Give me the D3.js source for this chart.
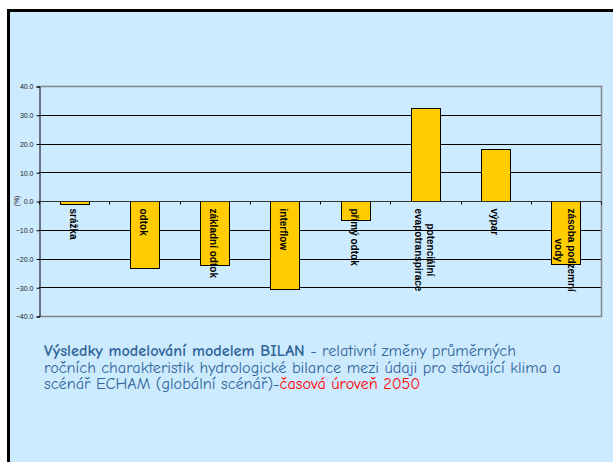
<!DOCTYPE html>
<html>
<head>
<meta charset="utf-8">
<script src="https://cdn.jsdelivr.net/npm/d3@7/dist/d3.min.js"></script>
<style>
  html, body { margin: 0; padding: 0; background: #ffffff; }
  svg { display: block; }
</style>
</head>
<body>
<svg id="chart" width="613" height="462"></svg>
<script>
// Relative change (%) of mean annual water-balance components, BILAN model, ECHAM scenario, 2050
const categories = [
  ["srážka"],
  ["odtok"],
  ["základní odtok"],
  ["interflow"],
  ["přímý odtok"],
  ["potenciální", "evapotranspirace"],
  ["výpar"],
  ["zásoba podzemní", "vody"]
];
const values = [-0.9, -23.4, -22.2, -30.5, -6.6, 32.2, 18.2, -22.0];
const yTicks = [40, 30, 20, 10, 0, -10, -20, -30, -40];
const yLabel = "(%)";
const captionLines = [
  [{ t: "Výsledky modelování modelem BILAN", bold: true }, { t: " - relativní změny průměrných" }],
  [{ t: "ročních charakteristik hydrologické bilance mezi údaji pro stávající klima a" }],
  [{ t: "scénář ECHAM (globální scénář)-" }, { t: "časová úroveň 2050", red: true }]
];

const svg = d3.select("#chart");
const W = 613, H = 462;

// slide background and frame
svg.append("rect").attr("x", 0).attr("y", 0).attr("width", W).attr("height", H).attr("fill", "#ffffff");
svg.append("rect").attr("x", 8).attr("y", 10).attr("width", W - 8).attr("height", H - 10).attr("fill", "#cdebff");
svg.append("rect").attr("x", 7).attr("y", 9).attr("width", W - 7).attr("height", 3).attr("fill", "#000");
svg.append("rect").attr("x", 7).attr("y", 9).attr("width", 3).attr("height", H - 9).attr("fill", "#000");

// plot area
const plot = { left: 39, right: 601, top: 86, bottom: 316 };

const x = d3.scaleBand()
  .domain(d3.range(categories.length))
  .range([plot.left, plot.right])
  .paddingInner(0.585)
  .paddingOuter(0.2925);

const y = d3.scaleLinear().domain([-40, 40]).range([plot.bottom, plot.top]);

const g = svg.append("g");

// horizontal gridlines
g.selectAll("line.grid")
  .data(yTicks.filter(d => d !== 40 && d !== -40 && d !== 0))
  .join("line")
  .attr("class", "grid")
  .attr("x1", plot.left).attr("x2", plot.right)
  .attr("y1", d => Math.round(y(d)) + 0.5).attr("y2", d => Math.round(y(d)) + 0.5)
  .attr("stroke", "#000").attr("stroke-width", 1);

// plot border (top, right, bottom)
g.append("path")
  .attr("d", `M${plot.left},${plot.top + 0.5} H${plot.right + 0.5} V${plot.bottom + 0.5} H${plot.left}`)
  .attr("fill", "none").attr("stroke", "#858585").attr("stroke-width", 1.5);

// value axis
const yAxis = d3.axisLeft(y).tickValues(yTicks).tickSize(3).tickPadding(3)
  .tickFormat(d3.format(".1f"));
const ya = svg.append("g").attr("transform", `translate(${plot.left + 0.5},0.5)`).call(yAxis);
ya.select(".domain").attr("stroke", "#000");
ya.selectAll(".tick line").attr("stroke", "#000");
ya.selectAll(".tick text")
  .attr("font-family", "Arial, 'Liberation Sans', sans-serif")
  .attr("font-size", 7).attr("fill", "#222");

svg.append("text")
  .attr("transform", `translate(19,${y(0)}) rotate(-90)`)
  .attr("text-anchor", "middle")
  .attr("font-family", "Arial, 'Liberation Sans', sans-serif")
  .attr("font-size", 7).attr("fill", "#222")
  .text(yLabel);

// bars
g.selectAll("rect.bar")
  .data(values)
  .join("rect")
  .attr("class", "bar")
  .attr("x", (d, i) => Math.round(x(i)) + 0.5)
  .attr("width", Math.round(x.bandwidth()))
  .attr("y", d => Math.round(y(Math.max(0, d))) + 0.5)
  .attr("height", d => Math.max(1, Math.round(Math.abs(y(d) - y(0)))))
  .attr("fill", "#ffcc00")
  .attr("stroke", "#000").attr("stroke-width", 1);

// category axis along zero with ticks between categories
const zeroY = Math.round(y(0)) + 0.5;
g.append("line")
  .attr("x1", plot.left).attr("x2", plot.right)
  .attr("y1", zeroY).attr("y2", zeroY)
  .attr("stroke", "#333").attr("stroke-width", 1);
const step = x.step();
g.selectAll("line.ctick")
  .data(d3.range(categories.length + 1))
  .join("line")
  .attr("class", "ctick")
  .attr("x1", i => Math.round(plot.left + i * step) + 0.5)
  .attr("x2", i => Math.round(plot.left + i * step) + 0.5)
  .attr("y1", zeroY).attr("y2", zeroY + 3)
  .attr("stroke", "#000");

// rotated category labels, read top-to-bottom, lines centred on each other
const fs = 10, lh = 12.5;
categories.forEach((lines, i) => {
  const cx = x(i) + x.bandwidth() / 2 - 1;
  const lab = svg.append("g").attr("transform", `translate(${cx},${zeroY + 7}) rotate(90)`);
  const n = lines.length;
  const texts = lines.map((ln, k) => lab.append("text")
    .attr("font-family", "Arial, 'Liberation Sans', sans-serif")
    .attr("font-weight", "bold")
    .attr("font-size", fs)
    .attr("fill", "#000")
    .attr("y", (k - (n - 1) / 2) * lh + 0.35 * fs)
    .text(ln));
  const widths = texts.map(t => t.node().getComputedTextLength());
  const maxW = d3.max(widths);
  texts.forEach((t, k) => t.attr("x", (maxW - widths[k]) / 2));
});

// caption
const capFont = "'Comic Sans MS', 'Comic Neue', 'DejaVu Sans', sans-serif";
const cap = svg.append("g");
const capText = cap.selectAll("text")
  .data(captionLines)
  .join("text")
  .attr("x", 44)
  .attr("y", (d, i) => 356 + i * 16.5)
  .attr("font-family", capFont)
  .attr("font-size", 13)
  .attr("fill", "#336699");
capText.each(function(parts) {
  const t = d3.select(this);
  parts.forEach(p => {
    t.append("tspan")
      .attr("font-weight", p.bold ? "bold" : null)
      .attr("fill", p.red ? "#ff0000" : null)
      .text(p.t);
  });
});
// fit the second line to its width in the slide
const target = 517;
const measured = capText.nodes()[1].getComputedTextLength();
const size = 13 * target / measured;
capText.attr("font-size", size);
</script>
</body>
</html>
